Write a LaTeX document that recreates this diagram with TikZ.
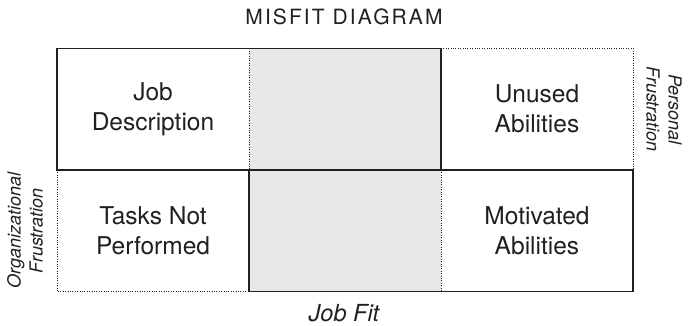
\documentclass[tikz,border=0pt]{standalone}
\usepackage{fontspec}
\setmainfont{TeX Gyre Heros}
\newfontfamily\titlefont[LetterSpace=10]{TeX Gyre Heros}
\usepackage{xcolor}
\usepackage{tikz}
\definecolor{gapGray}{RGB}{230,231,232}
\definecolor{lineDark}{RGB}{35,31,32}
\tikzset{%
  cell/.style={rectangle, minimum width=192pt, minimum height=121.5pt, inner sep=0pt, outer sep=0pt, align=center, font=\fontsize{24.5}{30}\selectfont, text=lineDark},
  gapCell/.style={cell, fill=gapGray},
  % borders
  frame/.style={draw=lineDark, line width=1.3pt},
  dotFrame/.style={draw=lineDark, line width=1pt, dash pattern=on 1pt off 1.4pt},
  %
  sideLabel/.style={align=center, font=\fontsize{18}{22}\selectfont\itshape, text=lineDark},
  axisLabel/.style={font=\fontsize{23.5}{28}\selectfont\itshape, text=lineDark},
  title/.style={font=\titlefont\fontsize{21}{25}\selectfont, text=lineDark}}

\begin{document}
\begin{tikzpicture}[x=1pt,y=-1pt]
    \useasboundingbox (0,0) rectangle (688,326);

    \node[title] (title) at (344,17) {MISFIT DIAGRAM};

    \node[gapCell] (gapTop) at (345,109.25) {};
    \node[gapCell] (gapBottom) at (345,230.75) {};
    \node[cell] (jobDesc) at (153,109.25) {Job\\Description};
    \node[cell] (unused) at (537,109.25) {Unused\\Abilities};
    \node[cell] (tasks) at (153,230.75) {Tasks Not\\Performed};
    \node[cell] (motivated) at (537,230.75) {Motivated\\Abilities};

    \draw[dotFrame] (jobDesc.north east) -- (jobDesc.south east);
    \draw[dotFrame] (unused.north west) -- (unused.north east) -- (unused.south east);
    \draw[dotFrame] (tasks.north west) -- (tasks.south west) -- (tasks.south east);
    \draw[dotFrame] (motivated.north west) -- (motivated.south west);

    \draw[frame] (jobDesc.north west) rectangle (gapTop.south east);
    \draw[frame] (gapBottom.north west) rectangle (motivated.south east);

    \node[sideLabel, rotate=90] (orgFrust) at (25,230.75) {Organizational\\Frustration};
    \node[sideLabel, rotate=-90] (persFrust) at (664,109.25) {Personal\\Frustration};
    \node[axisLabel] (jobFit) at (344,313) {Job Fit};
\end{tikzpicture}
\end{document}
